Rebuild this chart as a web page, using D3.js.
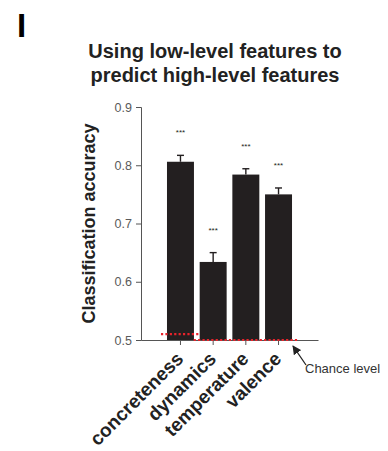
<!DOCTYPE html>
<html>
<head>
<meta charset="utf-8">
<script src="https://cdn.jsdelivr.net/npm/d3@7"></script>
<style>
  body { margin: 0; background: #fff; }
  svg { display: block; font-family: "Liberation Sans", Arial, sans-serif; }
</style>
</head>
<body>
<svg width="388" height="451"></svg>
<script>
const categories = ['concreteness', 'dynamics', 'temperature', 'valence'];
const accuracy = [0.806, 0.634, 0.784, 0.750];
const errorTop = [0.817, 0.650, 0.794, 0.761];
const chanceLevels = [0.51, 0.5, 0.5, 0.5];
const significance = ['***', '***', '***', '***'];
const yTicks = [0.5, 0.6, 0.7, 0.8, 0.9];

const svg = d3.select('svg');

const xScale = d3.scaleBand()
    .domain(categories)
    .range([141, 318])
    .paddingInner(0.175)
    .paddingOuter(0.795);

const yScale = d3.scaleLinear()
    .domain([0.5, 0.9])
    .range([340, 107]);

// panel letter + title
svg.append('text')
    .attr('x', 17).attr('y', 37)
    .attr('font-size', 33).attr('font-weight', 'bold')
    .text('I');

const title = svg.append('text')
    .attr('text-anchor', 'middle')
    .attr('font-size', 20).attr('font-weight', 'bold')
    .attr('fill', '#222');
title.append('tspan').attr('x', 215).attr('y', 58).text('Using low-level features to');
title.append('tspan').attr('x', 215).attr('y', 82).text('predict high-level features');

// y axis
const yAxis = svg.append('g')
    .attr('transform', 'translate(141,0)')
    .call(d3.axisLeft(yScale).tickValues(yTicks).tickFormat(d3.format('.1f')).tickSize(5).tickPadding(4));
yAxis.select('.domain').attr('stroke', '#555');
yAxis.selectAll('.tick line').attr('stroke', '#555');
yAxis.selectAll('.tick text').attr('fill', '#5a5a5a').attr('font-size', 12.5)
    .attr('font-family', '"Liberation Sans", Arial, sans-serif');

svg.append('text')
    .attr('transform', `translate(95,${(yScale(0.5) + yScale(0.9)) / 2}) rotate(-90)`)
    .attr('text-anchor', 'middle')
    .attr('font-size', 18).attr('font-weight', 'bold')
    .attr('fill', '#222')
    .text('Classification accuracy');

// bars
const bw = xScale.bandwidth();
svg.selectAll('rect.bar').data(categories)
    .enter().append('rect')
    .attr('class', 'bar')
    .attr('x', d => xScale(d))
    .attr('width', bw)
    .attr('y', (d, i) => yScale(accuracy[i]))
    .attr('height', (d, i) => yScale(0.5) - yScale(accuracy[i]))
    .attr('fill', '#231f20');

// error bars
const err = svg.append('g').attr('stroke', '#231f20').attr('stroke-width', 1.4);
categories.forEach((c, i) => {
    const cx = xScale(c) + bw / 2;
    err.append('line').attr('x1', cx).attr('x2', cx)
        .attr('y1', yScale(accuracy[i])).attr('y2', yScale(errorTop[i]));
    err.append('line').attr('x1', cx - 3.5).attr('x2', cx + 3.5)
        .attr('y1', yScale(errorTop[i])).attr('y2', yScale(errorTop[i]));
    svg.append('text')
        .attr('x', cx).attr('y', yScale(errorTop[i]) - 20)
        .attr('text-anchor', 'middle')
        .attr('font-size', 8).attr('fill', '#231f20')
        .text(significance[i]);
});

// x axis
const xAxis = svg.append('g')
    .attr('transform', 'translate(0,340)')
    .call(d3.axisBottom(xScale).tickSize(5).tickSizeOuter(0).tickFormat(''));
xAxis.select('.domain').attr('stroke', '#555');
xAxis.selectAll('.tick line').attr('stroke', '#555');

svg.selectAll('text.xlab').data(categories)
    .enter().append('text')
    .attr('class', 'xlab')
    .attr('transform', d => `translate(${xScale(d) + bw / 2 + 4},360) rotate(-45)`)
    .attr('text-anchor', 'end')
    .attr('font-size', 19).attr('font-weight', 'bold')
    .attr('fill', '#222')
    .text(d => d);

// chance level segments (merge runs of equal values)
const runs = [];
categories.forEach((c, i) => {
    const last = runs[runs.length - 1];
    if (last && last.value === chanceLevels[i]) last.end = c;
    else runs.push({ value: chanceLevels[i], start: c, end: c });
});
svg.selectAll('line.chance').data(runs)
    .enter().append('line')
    .attr('class', 'chance')
    .attr('x1', d => xScale(d.start) - 6)
    .attr('x2', d => xScale(d.end) + bw + 6)
    .attr('y1', d => yScale(d.value))
    .attr('y2', d => yScale(d.value))
    .attr('stroke', '#e8232b')
    .attr('stroke-width', 2.2)
    .attr('stroke-dasharray', '2.2,2.2');

// annotation arrow
svg.append('defs').append('marker')
    .attr('id', 'head').attr('viewBox', '0 0 10 10')
    .attr('refX', 9).attr('refY', 5)
    .attr('markerWidth', 9).attr('markerHeight', 9)
    .attr('markerUnits', 'userSpaceOnUse')
    .attr('orient', 'auto')
    .append('path').attr('d', 'M0,0 L10,5 L0,10 Z').attr('fill', '#222');
svg.append('line')
    .attr('x1', 306).attr('y1', 365)
    .attr('x2', 293).attr('y2', 346)
    .attr('stroke', '#222').attr('stroke-width', 1.3)
    .attr('marker-end', 'url(#head)');
svg.append('text')
    .attr('x', 305).attr('y', 373)
    .attr('font-size', 13).attr('fill', '#333')
    .text('Chance level');
</script>
</body>
</html>
